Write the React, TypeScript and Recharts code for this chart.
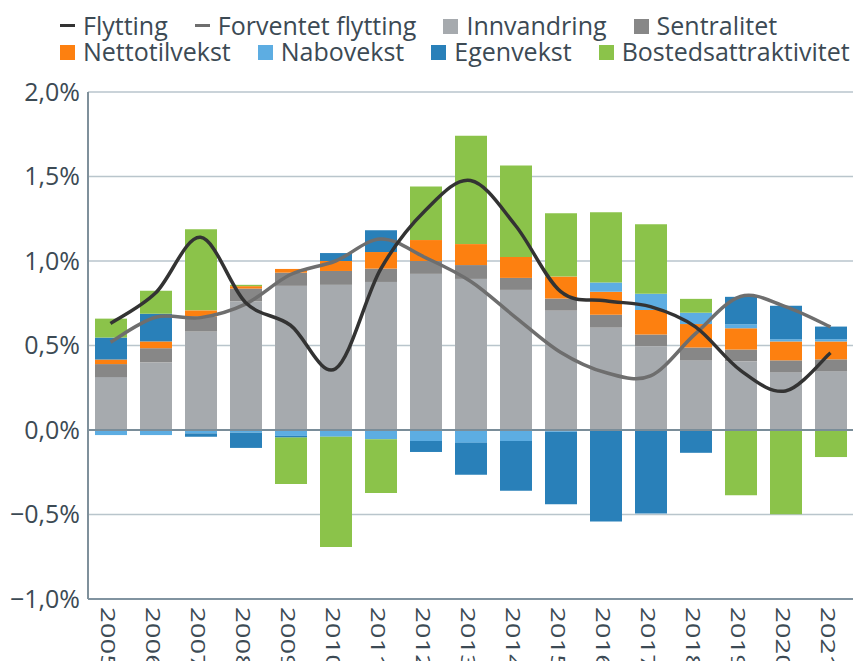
import React from 'react';
import { ComposedChart, Bar, Line, XAxis, YAxis, CartesianGrid, ReferenceLine } from 'recharts';

const years = ['2005','2006','2007','2008','2009','2010','2011','2012','2013','2014','2015','2016','2017','2018','2019','2020','2021'];

const innvandring = [0.313, 0.40, 0.582, 0.761, 0.853, 0.859, 0.876, 0.924, 0.894, 0.829, 0.706, 0.606, 0.496, 0.412, 0.406, 0.341, 0.347];
const sentralitet = [0.077, 0.084, 0.089, 0.076, 0.078, 0.082, 0.079, 0.076, 0.082, 0.071, 0.072, 0.076, 0.069, 0.076, 0.07, 0.071, 0.071];
const nettotilvekst = [0.027, 0.04, 0.037, 0.014, 0.022, 0.059, 0.098, 0.124, 0.124, 0.124, 0.13, 0.136, 0.145, 0.139, 0.126, 0.112, 0.106];
const nabovekst = [-0.03, -0.03, -0.02, -0.016, -0.035, -0.04, -0.055, -0.065, -0.076, -0.065, -0.01, 0.055, 0.096, 0.067, 0.023, 0.013, 0.013];
const egenvekst = [0.13, 0.164, -0.02, -0.09, -0.01, 0.047, 0.129, -0.065, -0.189, -0.295, -0.43, -0.541, -0.494, -0.135, 0.163, 0.198, 0.075];
const bostedsattraktivitet = [0.112, 0.136, 0.48, 0.008, -0.275, -0.652, -0.318, 0.317, 0.641, 0.541, 0.374, 0.415, 0.412, 0.082, -0.386, -0.498, -0.16];
const flytting = [0.63, 0.81, 1.14, 0.755, 0.62, 0.363, 0.95, 1.30, 1.476, 1.21, 0.82, 0.765, 0.73, 0.61, 0.353, 0.231, 0.457];
const forventetFlytting = [0.52, 0.667, 0.665, 0.745, 0.92, 1.0, 1.13, 1.02, 0.88, 0.667, 0.46, 0.34, 0.32, 0.57, 0.79, 0.73, 0.61];

const yTicks = [-1, -0.5, 0, 0.5, 1, 1.5, 2];

const data = years.map((year, i) => ({
  year,
  innvandring: innvandring[i],
  sentralitet: sentralitet[i],
  nettotilvekst: nettotilvekst[i],
  nabovekst: nabovekst[i],
  egenvekst: egenvekst[i],
  bostedsattraktivitet: bostedsattraktivitet[i],
  flytting: flytting[i],
  forventetFlytting: forventetFlytting[i],
}));

const FONT = '"Open Sans", sans-serif';
const TEXT = '#3c4a54';

const legendRows = [
  [
    { name: 'Flytting', color: '#333333', kind: 'line' },
    { name: 'Forventet flytting', color: '#6e6e6e', kind: 'line' },
    { name: 'Innvandring', color: '#a6aaae', kind: 'box' },
    { name: 'Sentralitet', color: '#878787', kind: 'box' },
  ],
  [
    { name: 'Nettotilvekst', color: '#fd8010', kind: 'box' },
    { name: 'Nabovekst', color: '#5dade2', kind: 'box' },
    { name: 'Egenvekst', color: '#2980b9', kind: 'box' },
    { name: 'Bostedsattraktivitet', color: '#8bc34a', kind: 'box' },
  ],
];

// Excel-like smooth curve (Catmull-Rom bezier)
const smoothCurve: any = (context: any) => {
  let pts: number[][] = [];
  return {
    areaStart() {},
    areaEnd() {},
    lineStart() { pts = []; },
    point(x: number, y: number) { pts.push([+x, +y]); },
    lineEnd() {
      const n = pts.length;
      if (!n) return;
      context.moveTo(pts[0][0], pts[0][1]);
      for (let i = 0; i < n - 1; i++) {
        const p0 = pts[Math.max(i - 1, 0)];
        const p1 = pts[i];
        const p2 = pts[i + 1];
        const p3 = pts[Math.min(i + 2, n - 1)];
        const c1x = p1[0] + (p2[0] - p0[0]) / 6;
        const c1y = p1[1] + (p2[1] - p0[1]) / 6;
        const c2x = p2[0] - (p3[0] - p1[0]) / 6;
        const c2y = p2[1] - (p3[1] - p1[1]) / 6;
        context.bezierCurveTo(c1x, c1y, c2x, c2y, p2[0], p2[1]);
      }
    },
  };
};

const fmt = (v: number) => {
  const s = Math.abs(v).toFixed(1).replace('.', ',') + '%';
  return v < 0 ? '\u2212' + s : s;
};

const XTick = (props: any) => {
  const { x, y, payload } = props;
  return (
    <text
      transform={`translate(${x - 2},${y}) rotate(90) scale(1.1,0.78)`}
      x={0}
      y={0}
      dy="0.36em"
      textAnchor="start"
      fontSize={25}
      fontFamily={FONT}
      fill={TEXT}
    >
      {payload.value}
    </text>
  );
};

const Legend = () => (
  <div style={{ position: 'absolute', left: 60, top: 12, fontFamily: FONT, fontSize: 25, color: TEXT }}>
    {legendRows.map((row, r) => (
      <div key={r} style={{ display: 'flex', alignItems: 'center', height: 26, lineHeight: '26px', gap: 27, whiteSpace: 'nowrap' }}>
        {row.map((it) => (
          <div key={it.name} style={{ display: 'flex', alignItems: 'center' }}>
            {it.kind === 'line' ? (
              <span style={{ display: 'inline-block', width: 15, height: 3, background: it.color, marginRight: 8 }} />
            ) : (
              <span style={{ display: 'inline-block', width: 15, height: 15, background: it.color, marginRight: 8, marginTop: 2 }} />
            )}
            <span>{it.name}</span>
          </div>
        ))}
      </div>
    ))}
  </div>
);

export default function App() {
  return (
    <div style={{ position: 'absolute', left: 0, top: 0, width: 854, height: 661, background: '#fff', overflow: 'hidden' }}>
      <Legend />
      <ComposedChart
        width={854}
        height={661}
        data={data}
        stackOffset="sign"
        margin={{ top: 92, right: 1, bottom: 0, left: 0 }}
        barSize={32}
      >
        <CartesianGrid vertical={false} stroke="#b9c5cc" strokeWidth={1.5} />
        <XAxis
          dataKey="year"
          height={62}
          axisLine={{ stroke: '#8193a0', strokeWidth: 2 }}
          tickLine={false}
          tick={<XTick />}
          interval={0}
        />
        <YAxis
          width={88}
          domain={[-1, 2]}
          ticks={yTicks}
          tickFormatter={fmt}
          axisLine={{ stroke: '#7f909b', strokeWidth: 2 }}
          tickLine={false}
          tick={{ fontSize: 25, fontFamily: FONT, fill: TEXT }}
          interval={0}
        />
        <Bar dataKey="innvandring" stackId="a" fill="#a6aaae" isAnimationActive={false} />
        <Bar dataKey="sentralitet" stackId="a" fill="#878787" isAnimationActive={false} />
        <Bar dataKey="nettotilvekst" stackId="a" fill="#fd8010" isAnimationActive={false} />
        <Bar dataKey="nabovekst" stackId="a" fill="#5dade2" isAnimationActive={false} />
        <Bar dataKey="egenvekst" stackId="a" fill="#2980b9" isAnimationActive={false} />
        <Bar dataKey="bostedsattraktivitet" stackId="a" fill="#8bc34a" isAnimationActive={false} />
        <ReferenceLine y={0} stroke="#7a8d99" strokeWidth={2} />
        <Line dataKey="forventetFlytting" type={smoothCurve} stroke="#6e6e6e" strokeWidth={3.5} dot={false} activeDot={false} isAnimationActive={false} />
        <Line dataKey="flytting" type={smoothCurve} stroke="#333333" strokeWidth={3.5} dot={false} activeDot={false} isAnimationActive={false} />
      </ComposedChart>
    </div>
  );
}
